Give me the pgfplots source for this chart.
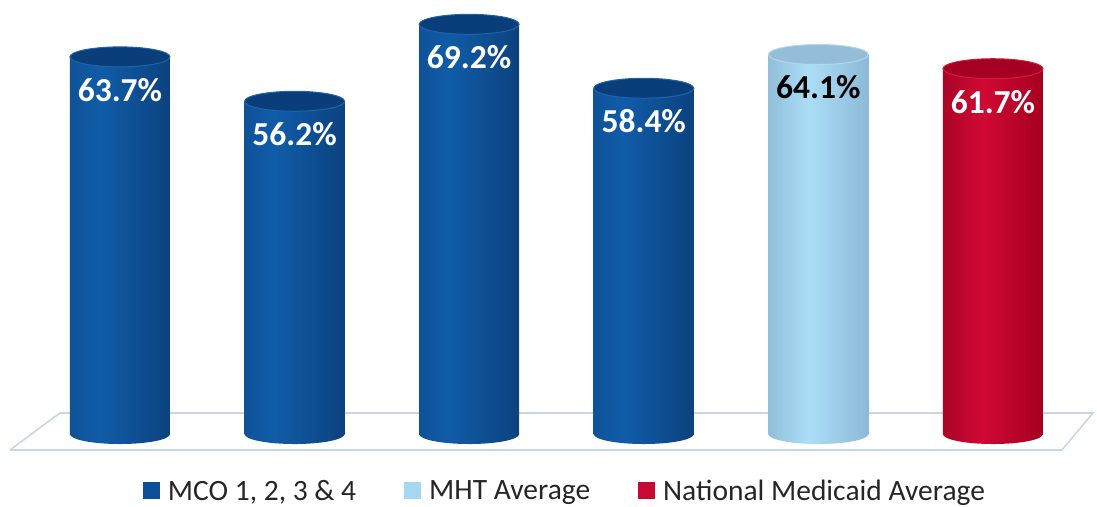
\documentclass[border=0pt]{standalone}
\usepackage{pgfplots}
\pgfplotsset{compat=1.18}
\usepackage{fontspec}
\setmainfont{Carlito}

\definecolor{bluedark}{RGB}{8,50,100}
\definecolor{blueleft}{RGB}{12,66,126}
\definecolor{bluemid}{RGB}{16,92,168}
\definecolor{bluetop}{RGB}{10,62,122}
\definecolor{bluerim}{RGB}{30,100,170}
\definecolor{lbdark}{RGB}{112,150,178}
\definecolor{lbleft}{RGB}{140,185,215}
\definecolor{lbmid}{RGB}{172,222,247}
\definecolor{lbtop}{RGB}{148,190,216}
\definecolor{lbrim}{RGB}{180,215,235}
\definecolor{reddark}{RGB}{125,0,22}
\definecolor{redleft}{RGB}{165,0,32}
\definecolor{redmid}{RGB}{208,8,52}
\definecolor{redtop}{RGB}{165,0,33}
\definecolor{redrim}{RGB}{205,30,60}
\definecolor{legblue}{RGB}{13,78,148}
\definecolor{leglb}{RGB}{165,215,242}
\definecolor{legred}{RGB}{200,10,50}
\definecolor{floorline}{RGB}{200,214,234}

\pgfdeclarehorizontalshading{cylblue}{100bp}{color(0bp)=(blueleft); color(40bp)=(bluemid); color(75bp)=(blueleft); color(100bp)=(bluedark)}
\pgfdeclarehorizontalshading{cyllb}{100bp}{color(0bp)=(lbdark); color(45bp)=(lbmid); color(75bp)=(lbleft); color(100bp)=(lbdark)}
\pgfdeclarehorizontalshading{cylred}{100bp}{color(0bp)=(reddark); color(45bp)=(redmid); color(75bp)=(redleft); color(100bp)=(reddark)}

\pgfdeclareplotmark{botblue}{\pgfpathellipse{\pgfpointorigin}{\pgfpoint{50pt}{0pt}}{\pgfpoint{0pt}{10pt}}\pgfshadepath{cylblue}{0}\pgfusepath{}}
\pgfdeclareplotmark{botlb}{\pgfpathellipse{\pgfpointorigin}{\pgfpoint{50pt}{0pt}}{\pgfpoint{0pt}{10pt}}\pgfshadepath{cyllb}{0}\pgfusepath{}}
\pgfdeclareplotmark{botred}{\pgfpathellipse{\pgfpointorigin}{\pgfpoint{50pt}{0pt}}{\pgfpoint{0pt}{10pt}}\pgfshadepath{cylred}{0}\pgfusepath{}}
\pgfdeclareplotmark{topblue}{\pgfpathellipse{\pgfpointorigin}{\pgfpoint{50pt}{0pt}}{\pgfpoint{0pt}{10pt}}\pgfsetfillcolor{bluetop}\pgfsetstrokecolor{bluerim}\pgfsetlinewidth{1pt}\pgfusepath{fill,stroke}}
\pgfdeclareplotmark{toplb}{\pgfpathellipse{\pgfpointorigin}{\pgfpoint{50pt}{0pt}}{\pgfpoint{0pt}{10pt}}\pgfsetfillcolor{lbtop}\pgfsetstrokecolor{lbrim}\pgfsetlinewidth{1pt}\pgfusepath{fill,stroke}}
\pgfdeclareplotmark{topred}{\pgfpathellipse{\pgfpointorigin}{\pgfpoint{50pt}{0pt}}{\pgfpoint{0pt}{10pt}}\pgfsetfillcolor{redtop}\pgfsetstrokecolor{redrim}\pgfsetlinewidth{1pt}\pgfusepath{fill,stroke}}

\pgfplotsset{
  cyl/.style={forget plot, ybar, bar width=0.573, bar shift=0pt, draw=none, shading=#1},
  nonode/.style={forget plot, only marks, nodes near coords={}},
}

\begin{document}
\begin{tikzpicture}
\begin{axis}[
  scale only axis,
  width=1097pt, height=506pt,
  xmin=-0.687, xmax=5.596,
  ymin=-12.16, ymax=73.31,
  hide axis,
  clip=false,
  /pgf/number format/assume math mode=true,
  legend columns=3,
  legend style={at={(0.515,0.03)}, anchor=center, draw=none, fill=none,
    font=\fontsize{29.5}{31}\selectfont, text=black!85},
  legend image code/.code={\fill[#1] (0pt,-8.5pt) rectangle (17pt,8.5pt); \path (23pt,0pt);},
  every node near coord/.append style={anchor=center, yshift=-33pt,
    font=\bfseries\fontsize{33.5}{34}\selectfont},
  nodes near coords={\pgfmathprintnumber[fixed,fixed zerofill,precision=1]{\pgfplotspointmeta}\%},
]
% legend images
\addlegendimage{fill=legblue, draw=none}
\addlegendentry{MCO 1, 2, 3 \& 4\rule{46pt}{0pt}}
\addlegendimage{fill=leglb, draw=none}
\addlegendentry{MHT Average\rule{46pt}{0pt}}
\addlegendimage{fill=legred, draw=none}
\addlegendentry{National Medicaid Average}

% floor
\addplot[forget plot, draw=floorline, line width=1.6pt, fill=white, no marks, nodes near coords={}]
  coordinates {(-0.630,-2.70) (5.395,-2.70) (5.573,3.55) (-0.344,3.55) (-0.630,-2.70)};

% MCO cylinders
\addplot[nonode, mark=botblue] coordinates {(0,0) (1,0) (2,0) (3,0)};
\addplot[cyl=cylblue, every node near coord/.append style={text=white}] coordinates {(0,63.7)};
\addplot[cyl=cylblue, every node near coord/.append style={text=white}] coordinates {(1,56.2)};
\addplot[cyl=cylblue, every node near coord/.append style={text=white}] coordinates {(2,69.2)};
\addplot[cyl=cylblue, every node near coord/.append style={text=white}] coordinates {(3,58.4)};
\addplot[nonode, mark=topblue] coordinates {(0,63.7) (1,56.2) (2,69.2) (3,58.4)};

% MHT average
\addplot[nonode, mark=botlb] coordinates {(4,0)};
\addplot[cyl=cyllb, every node near coord/.append style={text=black}] coordinates {(4,64.1)};
\addplot[nonode, mark=toplb] coordinates {(4,64.1)};

% National Medicaid
\addplot[nonode, mark=botred] coordinates {(5,0)};
\addplot[cyl=cylred, every node near coord/.append style={text=white}] coordinates {(5,61.7)};
\addplot[nonode, mark=topred] coordinates {(5,61.7)};
\end{axis}
\pgfresetboundingbox
\path (current axis.south west) rectangle (current axis.north east);
\end{tikzpicture}
\end{document}
